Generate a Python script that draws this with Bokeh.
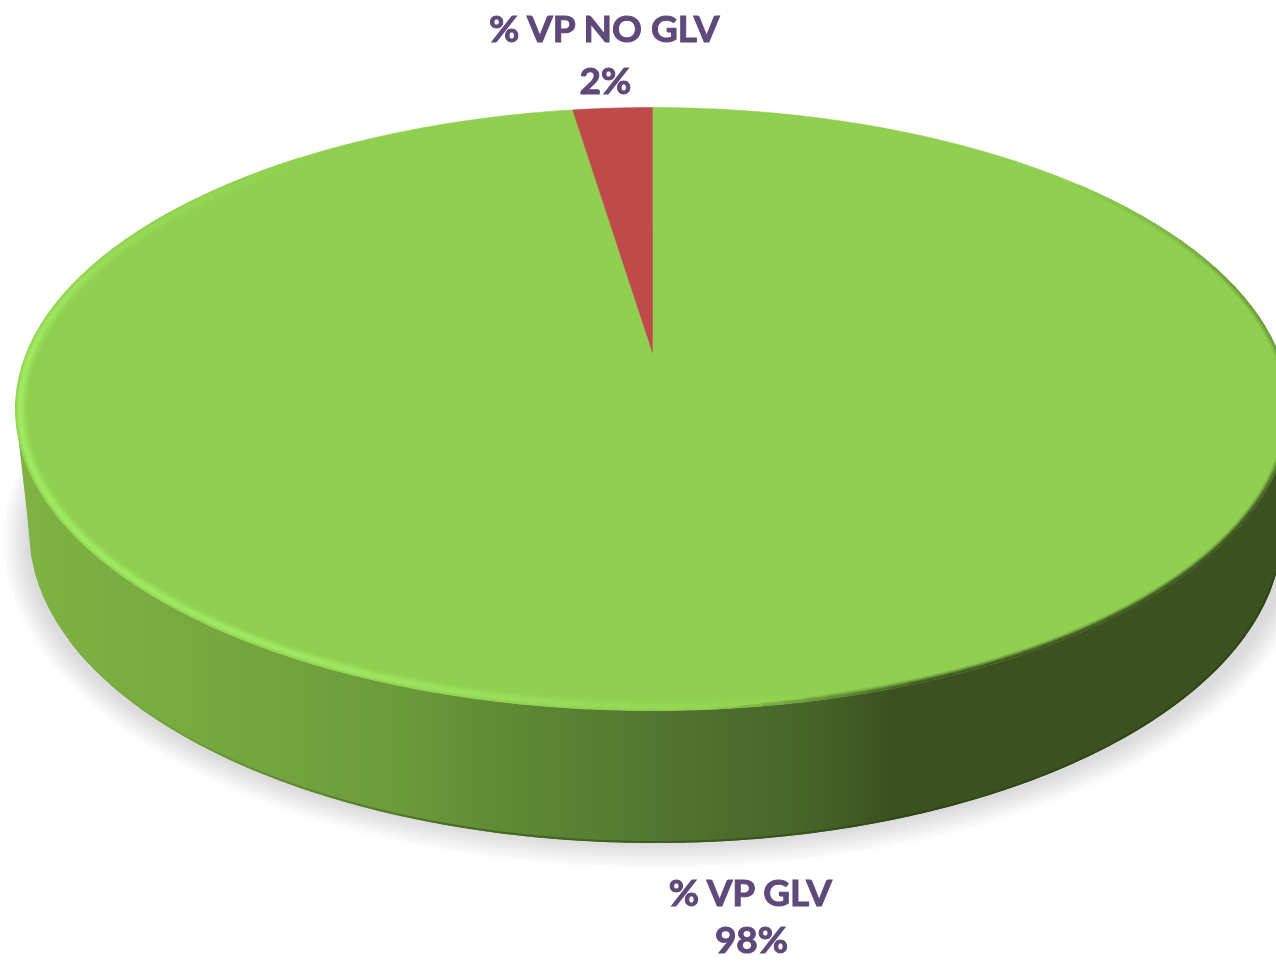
import numpy as np
from bokeh.plotting import figure
from bokeh.models import Range1d
from bokeh.embed import file_html
from bokeh.resources import INLINE
from bokeh.core.properties import value

categories = ["% VP GLV", "% VP NO GLV"]
values = [98, 2]
slice_colors = ["#90cf50", "#be4b4a"]

TEXT = "#5f497a"
FACE = slice_colors[0]
# pie geometry, in page pixels
CX, CY, A, B = 652.0, 408.5, 637.0, 301.5
AX, AY = 652.0, 352.0            # apex of the slices (perspective)
CX2, CY2, A2, B2 = 655.0, 530.0, 626.0, 312.0   # lower rim


def rgb(h):
    return np.array([int(h[i:i + 2], 16) for i in (1, 3, 5)], float)


def hexc(c):
    return "#%02x%02x%02x" % tuple(int(round(v)) for v in c)


def mix(a, b, w):
    return hexc(rgb(a) * (1 - w) + rgb(b) * w)


p = figure(width=1276, height=961, output_backend="svg", toolbar_location=None,
           x_range=Range1d(0, 1276), y_range=Range1d(961, 0), min_border=0,
           background_fill_color="white", border_fill_color="white",
           styles={"position": "fixed", "left": "0px", "top": "0px"})
p.axis.visible = False
p.grid.visible = False
p.outline_line_color = None

# soft shadow under the disc
for k in range(12):
    th = np.linspace(0, 2 * np.pi, 240)
    ax_, bx_ = 655 - 2.2 * k, 328 - 2.2 * k
    p.patch(657 + ax_ * np.sin(th), 540 + bx_ * np.cos(th), fill_color="black",
            fill_alpha=0.011, line_color=None)

# side wall with horizontal shading
stops_x = [14, 200, 400, 500, 650, 800, 850, 890, 1300]
stops_c = ["#7fb344", "#77a93f", "#6c9b3a", "#5f8b35", "#527730", "#476628", "#405c24", "#3b5220", "#3b5220"]
stops_rgb = np.array([rgb(c) for c in stops_c])


def wall_color(x):
    return hexc([np.interp(x, stops_x, stops_rgb[:, i]) for i in range(3)])


def y_top(x):
    u = np.clip((x - CX) / A, -1, 1)
    return CY + B * np.sqrt(1 - u ** 2)


def y_bot(x):
    u = (x - CX2) / A2
    if abs(u) < 1:
        return CY2 + B2 * np.sqrt(1 - u ** 2)
    if x < CX2:
        return CY + (x - (CX - A)) / ((CX2 - A2) - (CX - A)) * (CY2 - CY)
    return CY + ((CX + A) - x) / ((CX + A) - (CX2 + A2)) * (CY2 - CY)


edges = np.arange(CX - A, CX + A + 4, 4.0)
xs, ys, cs = [], [], []
for x0, x1 in zip(edges[:-1], edges[1:]):
    xs.append([x0, x1, x1, x0])
    ys.append([y_top(x0) - 6, y_top(x1) - 6, y_bot(x1), y_bot(x0)])
    cs.append(wall_color((x0 + x1) / 2))
p.patches(xs, ys, fill_color=cs, line_color=cs, line_width=1)

# dark line along the lower rim, fading in from the left
gx = np.arange(CX2 - A2 + 40, CX2 + A2 - 2, 6.0)
p.multi_line([[a, b] for a, b in zip(gx[:-1], gx[1:])],
             [[y_bot(a) - 0.5, y_bot(b) - 0.5] for a, b in zip(gx[:-1], gx[1:])],
             line_color=[mix(wall_color(a), "#24380f", float(np.interp(a, [100, 450], [0, 0.45]))) for a in gx[:-1]],
             line_width=2)

# slices, from the values
total = sum(values)
start = 0.0
for v, col in zip(values, slice_colors):
    t = np.linspace(start, start + v / total, max(4, int(v * 8))) * 2 * np.pi
    p.patch(np.r_[AX, CX + A * np.sin(t)], np.r_[AY, CY - B * np.cos(t)],
            fill_color=col, line_color=col, line_width=0.5)
    start += v / total


# bevel round the rim
def hi_w(d):
    return float(np.interp(d, [160, 180, 210, 280, 300, 330], [0, 0.35, 0.9, 1, 0.55, 0]))


def dk_w(d):
    return float(np.interp(d, [40, 65, 90, 110, 155, 175], [0, 0.4, 0.4, 1, 1, 0]))


hi_prof = [0.3, 0.65, 0.95, 1, 1, 0.95, 0.8, 0.62, 0.45, 0.3, 0.18, 0.08]
dk_prof = [0.95, 0.8, 0.55, 0.3, 0.12]
deg = np.arange(0, 360, 2.0)
mx, my, mc = [], [], []
for d in range(len(hi_prof) - 1, -1, -1):
    for t0 in deg:
        h = hi_w(t0 + 1) * hi_prof[d]
        k = dk_w(t0 + 1) * (dk_prof[d] if d < len(dk_prof) else 0)
        if h < 0.02 and k < 0.02:
            continue
        th = np.radians([t0, t0 + 2.3])
        off = d + 0.5
        mx.append(list(CX + (A - off) * np.sin(th)))
        my.append(list(CY - (B - off) * np.cos(th)))
        mc.append(mix(FACE, "#a0ea62", h) if h >= k else mix(FACE, "#3b5220", k))
p.multi_line(mx, my, line_color=mc, line_width=1.6)

# labels
label_x = [751, 605]
label_name_y = [891, 27]
label_pct_y = [938, 79]
common = dict(text_color=TEXT, text_font=value("Lato"), text_font_style="bold",
              text_font_size="37px", text_align="center", text_baseline="middle",
              text_outline_color=TEXT)
p.text(label_x, label_name_y, text=categories, **common)
p.text(label_x, label_pct_y, text=[f"{v}%" for v in values], **common)

open("out.html", "w").write(file_html(p, INLINE))
